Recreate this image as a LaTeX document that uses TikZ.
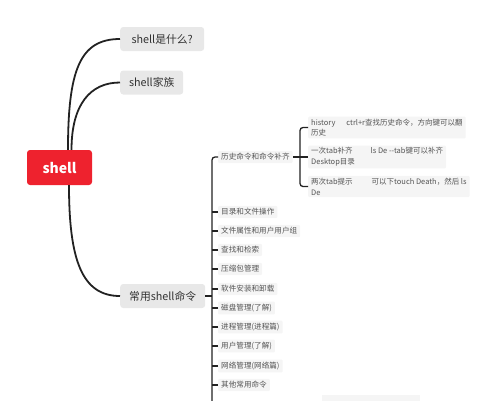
\documentclass[tikz,border=0pt]{standalone}
\usepackage{fontspec}
\setmainfont{Noto Sans CJK SC}
\definecolor{rootred}{RGB}{238,34,46}
\definecolor{topicgray}{RGB}{232,232,232}
\definecolor{itemgray}{RGB}{245,245,245}
\definecolor{txtdark}{RGB}{51,51,51}
\definecolor{txtgray}{RGB}{85,85,85}
\definecolor{linedark}{RGB}{34,34,34}
\begin{document}
\begin{tikzpicture}[x=1pt,y=-1pt,
  rootbox/.style={fill=rootred, rounded corners=3pt, text=white, font=\fontsize{14}{16}\selectfont\bfseries, minimum width=65pt, minimum height=35pt, inner sep=0pt},
  topic/.style={fill=topicgray, rounded corners=3pt, text=txtdark, font=\fontsize{10.8}{12}\selectfont, inner sep=0pt, minimum height=24pt, anchor=west},
  item/.style={fill=itemgray, rounded corners=1pt, text=txtgray, font=\fontsize{7.6}{9}\selectfont, inner xsep=3pt, inner ysep=2.5pt, anchor=west},
  sub/.style={item, align=left, font=\fontsize{7.5}{10.8}\selectfont, inner ysep=2pt},
  mainline/.style={draw=linedark, line width=1.8pt},
  brline/.style={draw=linedark, line width=1.3pt}]
\useasboundingbox (0,0) rectangle (500,400);

% root and topics
\node[rootbox] (root) at (59.5,167.5) {shell};
\node[topic, minimum width=84pt] (q1) at (120,39) {shell是什么?};
\node[topic, minimum width=63pt] (q2) at (120,82.5) {shell家族};
\node[topic, minimum width=85pt] (q3) at (120,296) {常用shell命令};

\draw[mainline] ([xshift=8.5pt]root.north) .. controls +(0,-80) and +(-40,0) .. (q1.west);
\draw[mainline] ([xshift=12pt]root.north) .. controls +(0,-45) and +(-30,0) .. (q2.west);
\draw[mainline] ([xshift=9.5pt]root.south) .. controls +(0,75) and +(-38,0) .. (q3.west);

% items of 常用shell命令
\coordinate (vtop) at (212,157);
\coordinate (vbot) at (212,403);
\node[item] (hist) at (218,157) {历史命令和命令补齐};
\node[item] (i1) at (218,212) {目录和文件操作};
\node[item] (i2) at (218,231) {文件属性和用户用户组};
\node[item] (i3) at (218,250) {查找和检索};
\node[item] (i4) at (218,269) {压缩包管理};
\node[item] (i5) at (218,289) {软件安装和卸载};
\node[item] (i6) at (218,308) {磁盘管理(了解)};
\node[item] (i7) at (218,327) {进程管理(进程篇)};
\node[item] (i8) at (218,346) {用户管理(了解)};
\node[item] (i9) at (218,366) {网络管理(网络篇)};
\node[item] (i10) at (218,385) {其他常用命令};

\draw[brline] (q3.east) -- (q3.east -| vbot);
\draw[brline, rounded corners=3pt] (hist.west) -- (vtop) -- (vbot);
\foreach \n in {i1,i2,i3,i4,i5,i6,i7,i8,i9,i10}
  \draw[brline] (\n.west) -- (\n.west -| vbot);

% faint box at bottom
\fill[itemgray] (322,395) rectangle (420,404);

% sub items of 历史命令和命令补齐
\coordinate (bx) at (300,157);
\node[sub] (s1) at (308,127.5) {history\hspace{11pt}ctrl+r查找历史命令，方向键可以翻\\历史};
\node[sub] (s2) at (308,157) {一次tab补齐\hspace{18pt}ls De -\kern0pt-tab键可以补齐\\Desktop目录};
\node[sub] (s3) at (308,186.5) {两次tab提示\hspace{19pt}可以下touch Death，然后 ls\\De};

\draw[brline] (hist.east) -- (s2.west);
\draw[brline, rounded corners=3pt] (s1.west) -- (s1.west -| bx) -- (s3.west -| bx) -- (s3.west);
\end{tikzpicture}
\end{document}
